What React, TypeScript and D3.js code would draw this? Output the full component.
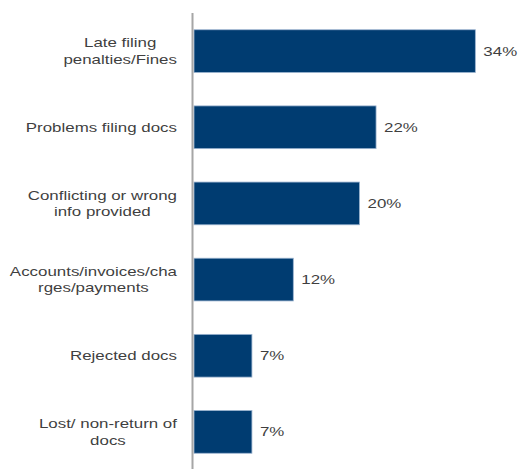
import React from "react";
import * as d3 from "d3";

const categories: string[][] = [
  ["Late filing", "penalties/Fines"],
  ["Problems filing docs"],
  ["Conflicting or wrong", "info provided"],
  ["Accounts/invoices/cha", "rges/payments"],
  ["Rejected docs"],
  ["Lost/ non-return of", "docs"],
];
const values: number[] = [34, 22, 20, 12, 7, 7];
const valueLabels: string[] = ["34%", "22%", "20%", "12%", "7%", "7%"];

const W = 518;
const H = 469;

const FONT = "'Liberation Sans', Arial, sans-serif";
const FS = 13;

function measure(text: string): number {
  if (typeof document === "undefined") return text.length * 7;
  const c = document.createElement("canvas");
  const ctx = c.getContext("2d");
  if (!ctx) return text.length * 7;
  ctx.font = `${FS}px ${FONT}`;
  return ctx.measureText(text).width;
}

export default function App() {
  const ids = categories.map((_, i) => String(i));
  const y = d3.scaleBand<string>().domain(ids).range([13, 470]).paddingInner(0.439).paddingOuter(0.22);
  const x = d3.scaleLinear().domain([0, 40]).range([194, 525]);
  const stretch = 1.3;
  const textColor = "#3f3f3f";
  const lineH = 16.5;
  const labelRight = 177;

  return (
    <svg width={W} height={H} style={{ position: "absolute", left: 0, top: 0, background: "#fff" }}>
      {values.map((v, i) => {
        const y0 = y(String(i))!;
        const bw = y.bandwidth();
        const lines = categories[i];
        const maxW = Math.max(...lines.map(measure)) * stretch;
        const cx = labelRight - maxW / 2;
        return (
          <g key={i}>
            <rect x={x(0)} y={y0} width={x(v) - x(0)} height={bw} fill="#003c71" stroke="#9bb3cf" strokeWidth={0.8} />
            <text
              transform={`translate(${x(v) + 8},${y0 + bw / 2}) scale(${stretch},1)`}
              dy="0.35em"
              fontFamily={FONT}
              fontSize={FS}
              fill={textColor}
            >
              {valueLabels[i]}
            </text>
            {lines.map((line, j) => {
              const n = lines.length;
              const cy = y0 + bw / 2 + (j - (n - 1) / 2) * lineH;
              return (
                <text
                  key={j}
                  transform={`translate(${cx},${cy}) scale(${stretch},1)`}
                  dy="0.35em"
                  textAnchor="middle"
                  fontFamily={FONT}
                  fontSize={FS}
                  fill={textColor}
                >
                  {line}
                </text>
              );
            })}
          </g>
        );
      })}
      <line x1={192.5} x2={192.5} y1={13} y2={H} stroke="#a6a6a6" strokeWidth={2} />
    </svg>
  );
}
